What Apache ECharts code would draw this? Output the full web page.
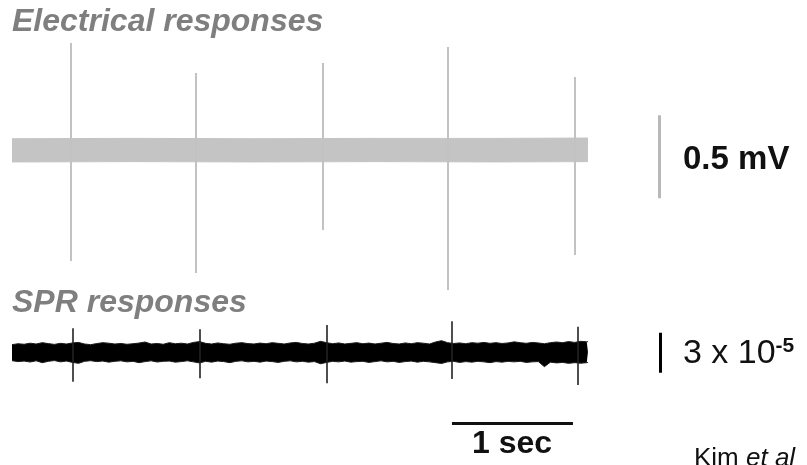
<!DOCTYPE html>
<html>
<head>
<meta charset="utf-8">
<script src="https://cdn.jsdelivr.net/npm/echarts@6/dist/echarts.min.js"></script>
<style>
html,body{margin:0;padding:0;background:#fff;}
#chart{width:807px;height:465px;}
</style>
</head>
<body>
<div id="chart"></div>
<script>
// ---- Electrical responses (mV, time in s) ----
var elT   = [0, 1, 2, 3, 4, 4.76];
var elUp  = [0.068, 0.070, 0.068, 0.070, 0.070, 0.072];
var elLo  = [-0.072, -0.070, -0.072, -0.070, -0.072, -0.070];
var elSpikeT   = [0.488, 1.521, 2.570, 3.603, 4.653];
var elSpikeTop = [0.645, 0.464, 0.524, 0.620, 0.440];
var elSpikeBot = [-0.669, -0.741, -0.482, -0.843, -0.633];

// ---- SPR responses (units of 1e-5, time in s) ----
var sprT  = [0,0.05,0.1,0.15,0.2,0.25,0.3,0.35,0.4,0.45,
             0.5,0.55,0.6,0.65,0.7,0.75,0.8,0.85,0.9,0.95,
             1.0,1.05,1.1,1.15,1.2,1.25,1.3,1.35,1.4,1.45,
             1.5,1.55,1.6,1.65,1.7,1.75,1.8,1.85,1.9,1.95,
             2.0,2.05,2.1,2.15,2.2,2.25,2.3,2.35,2.4,2.45,
             2.5,2.55,2.6,2.65,2.7,2.75,2.8,2.85,2.9,2.95,
             3.0,3.05,3.1,3.15,3.2,3.25,3.3,3.35,3.4,3.45,
             3.5,3.55,3.6,3.65,3.7,3.75,3.8,3.85,3.9,3.95,
             4.0,4.05,4.1,4.15,4.2,4.25,4.3,4.35,4.4,4.45,
             4.5,4.55,4.6,4.65,4.7,4.75,4.76];
var sprUp = [0.55,0.62,0.58,0.66,0.6,0.7,0.63,0.57,0.65,0.6,
             0.68,0.72,0.6,0.55,0.63,0.7,0.66,0.6,0.64,0.58,
             0.62,0.67,0.75,0.6,0.64,0.58,0.7,0.62,0.66,0.6,
             0.72,0.78,0.65,0.6,0.68,0.62,0.58,0.66,0.7,0.63,
             0.6,0.67,0.62,0.7,0.65,0.6,0.68,0.72,0.64,0.6,
             0.66,0.8,0.7,0.62,0.68,0.6,0.65,0.7,0.62,0.67,
             0.6,0.66,0.72,0.64,0.6,0.68,0.62,0.7,0.66,0.6,
             0.75,0.85,0.7,0.64,0.68,0.62,0.7,0.66,0.72,0.65,
             0.7,0.64,0.68,0.76,0.7,0.65,0.72,0.68,0.62,0.7,
             0.75,0.7,0.78,0.72,0.8,0.76,0.78];
var sprLo = [-0.65,-0.72,-0.68,-0.75,-0.66,-0.8,-0.7,-0.64,-0.74,-0.68,
             -0.78,-0.85,-0.7,-0.65,-0.72,-0.68,-0.76,-0.7,-0.66,-0.74,
             -0.7,-0.8,-0.72,-0.66,-0.75,-0.7,-0.68,-0.76,-0.72,-0.66,
             -0.74,-0.82,-0.7,-0.76,-0.68,-0.72,-0.8,-0.7,-0.66,-0.74,
             -0.7,-0.76,-0.68,-0.72,-0.78,-0.7,-0.66,-0.74,-0.7,-0.76,
             -0.72,-0.88,-0.78,-0.7,-0.74,-0.68,-0.76,-0.72,-0.7,-0.78,
             -0.72,-0.66,-0.74,-0.7,-0.78,-0.72,-0.68,-0.76,-0.7,-0.74,
             -0.8,-0.86,-0.74,-0.7,-0.78,-0.72,-0.76,-0.7,-0.74,-0.8,
             -0.72,-0.76,-0.7,-0.74,-0.7,-0.78,-0.74,-0.72,-1.1,-0.76,
             -0.82,-0.78,-0.85,-0.8,-0.84,-0.8,-0.78];
var sprSpikeT   = [0.504, 1.554, 2.603, 3.636, 4.678];
var sprSpikeTop = [1.78, 1.70, 2.03, 2.30, 1.90];
var sprSpikeBot = [-2.23, -1.97, -2.35, -2.03, -2.48];

// ---- Scale bars ----
var elScaleT = 5.347;   var elScaleRange = [-0.29, 0.21];   // 0.5 mV
var sprScaleT = 5.355;  var sprScaleRange = [-1.55, 1.45];  // 3 x 10^-5
var timeBarRange = [3.636, 4.636]; var timeBarY = -5.33;    // 1 sec

// ---- Labels ----
var titleEl = 'Electrical responses';
var titleSpr = 'SPR responses';
var labelMv = '0.5 mV';
var labelSprBase = '3 x 10', labelSprExp = '-5';
var labelTime = '1 sec';
var creditName = 'Kim ', creditEtAl = 'et al';

function pairs(xs, ys){ return xs.map(function(x,i){ return [x, ys[i]]; }); }
function spikes(ts, tops, bots){ return ts.map(function(t,i){ return {coords:[[t,tops[i]],[t,bots[i]]]}; }); }

var chart = echarts.init(document.getElementById('chart'), null, {renderer:'canvas'});
var FONT = '"Liberation Sans", Arial, Helvetica, sans-serif';

var option = {
  backgroundColor: '#ffffff',
  animation: false,
  grid: [
    {left: 12, width: 726, top: 17.2, height: 282.2},
    {left: 12, width: 726, top: 298.67, height: 133.33}
  ],
  xAxis: [
    {type:'value', gridIndex:0, min:0, max:6, show:false},
    {type:'value', gridIndex:1, min:0, max:6, show:false}
  ],
  yAxis: [
    {type:'value', gridIndex:0, min:-0.9, max:0.8, show:false},
    {type:'value', gridIndex:1, min:-6, max:4, show:false}
  ],
  series: [
    // electrical band
    {type:'line', xAxisIndex:0, yAxisIndex:0, data: pairs(elT, elUp), symbol:'none',
     lineStyle:{color:'#c4c4c4', width:1}, areaStyle:{color:'#c4c4c4', opacity:1}, silent:true, z:2},
    {type:'line', xAxisIndex:0, yAxisIndex:0, data: pairs(elT, elLo), symbol:'none',
     lineStyle:{color:'#c4c4c4', width:1}, areaStyle:{color:'#c4c4c4', opacity:1}, silent:true, z:2},
    // electrical spikes
    {type:'lines', coordinateSystem:'cartesian2d', xAxisIndex:0, yAxisIndex:0,
     data: spikes(elSpikeT, elSpikeTop, elSpikeBot),
     lineStyle:{color:'#c2c2c2', width:2, opacity:1}, silent:true, z:3},
    // electrical scale bar
    {type:'lines', coordinateSystem:'cartesian2d', xAxisIndex:0, yAxisIndex:0,
     data: [{coords:[[elScaleT, elScaleRange[0]],[elScaleT, elScaleRange[1]]]}],
     lineStyle:{color:'#b8b8b8', width:3, opacity:1}, silent:true, z:3},
    // SPR band
    {type:'line', xAxisIndex:1, yAxisIndex:1, data: pairs(sprT, sprUp), symbol:'none',
     lineStyle:{color:'#1a1a1a', width:1}, areaStyle:{color:'#000', opacity:1}, silent:true, z:2},
    {type:'line', xAxisIndex:1, yAxisIndex:1, data: pairs(sprT, sprLo), symbol:'none',
     lineStyle:{color:'#1a1a1a', width:1}, areaStyle:{color:'#000', opacity:1}, silent:true, z:2},
    // SPR spikes
    {type:'lines', coordinateSystem:'cartesian2d', xAxisIndex:1, yAxisIndex:1,
     data: spikes(sprSpikeT, sprSpikeTop, sprSpikeBot),
     lineStyle:{color:'#222', width:1.6, opacity:1}, silent:true, z:3},
    // SPR scale bar
    {type:'lines', coordinateSystem:'cartesian2d', xAxisIndex:1, yAxisIndex:1,
     data: [{coords:[[sprScaleT, sprScaleRange[0]],[sprScaleT, sprScaleRange[1]]]}],
     lineStyle:{color:'#000', width:3, opacity:1}, silent:true, z:3},
    // time bar
    {type:'lines', coordinateSystem:'cartesian2d', xAxisIndex:1, yAxisIndex:1,
     data: [{coords:[[timeBarRange[0], timeBarY],[timeBarRange[1], timeBarY]]}],
     lineStyle:{color:'#111', width:3, opacity:1}, silent:true, z:3}
  ],
  graphic: [
    {type:'text', left:12, top:6, z:10, style:{text:titleEl, fill:'#7f7f7f', font:'italic bold 32px '+FONT}},
    {type:'text', left:12, top:287, z:10, style:{text:titleSpr, fill:'#7f7f7f', font:'italic bold 32px '+FONT}},
    {type:'text', x:683, y:160, z:10, style:{text:labelMv, fill:'#111', font:'bold 33px '+FONT, verticalAlign:'middle'}},
    {type:'text', x:683, y:354, z:10, style:{
      text:'{b|'+labelSprBase+'}{s|'+labelSprExp+'}', verticalAlign:'middle',
      rich:{
        b:{fontFamily:FONT, fontSize:34, fill:'#111', lineHeight:36},
        s:{fontFamily:FONT, fontSize:21, fill:'#111', lineHeight:20, verticalAlign:'top', fontWeight:'bold'}
      }}},
    {type:'text', x:512, y:444, z:10, style:{text:labelTime, fill:'#111', font:'bold 32px '+FONT, align:'center', verticalAlign:'middle'}},
    {type:'text', x:694, y:459, z:10, style:{
      text:'{n|'+creditName+'}{i|'+creditEtAl+'}', verticalAlign:'middle',
      rich:{
        n:{fontFamily:FONT, fontSize:26, fill:'#111'},
        i:{fontFamily:FONT, fontSize:26, fill:'#111', fontStyle:'italic'}
      }}}
  ]
};
chart.setOption(option);
</script>
</body>
</html>
